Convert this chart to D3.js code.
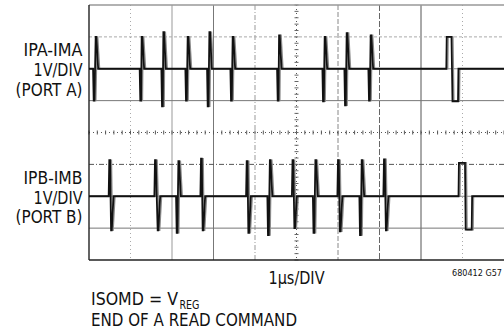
<!DOCTYPE html>
<html>
<head>
<meta charset="utf-8">
<script src="https://cdn.jsdelivr.net/npm/d3@7"></script>
<style>
  html, body { margin: 0; padding: 0; background: #fff; }
  svg { display: block; }
  text { font-family: "Liberation Sans Narrow", "Arial Narrow", "DejaVu Sans Condensed", "Liberation Sans", sans-serif; fill: #111; }
</style>
</head>
<body>
<svg id="chart" width="504" height="332"></svg>
<script>
// ---------- data ----------
const timeDivs = [0, 1, 2, 3, 4, 5, 6, 7, 8, 9, 10];      // µs (1µs/DIV)
const voltDivs = [-4, -3, -2, -1, 0, 1, 2, 3, 4];         // V (1V/DIV)
const channelNames = ["IPA-IMA", "IPB-IMB"];
const channelScales = ["1V/DIV", "1V/DIV"];
const channelPorts = ["(PORT A)", "(PORT B)"];
const channelOffsets = [2, -2];                           // screen offset in divisions
// short bipolar pulses: [t1 (µs), v1 (V), t2 (µs), v2 (V)]
const pulsesA = [
  [0.113, -1.00, 0.176, 1.00],
  [1.236, -1.00, 1.284, 1.00],
  [1.759, -1.18, 1.807, 1.15],
  [2.337, -1.00, 2.393, 1.00],
  [2.860, -1.18, 2.916, 1.15],
  [3.422, -1.00, 3.477, 1.00],
  [4.547, -1.00, 4.595, 1.05],
  [5.639, -1.02, 5.694, 1.00],
  [6.169, -1.15, 6.224, 1.12],
  [6.747, -1.00, 6.802, 1.05]
];
const pulsesB = [
  [0.489, 1.13, 0.547, -1.07],
  [1.590, 1.13, 1.670, -1.07],
  [2.113, -1.15, 2.169, 1.10],
  [2.699, 1.18, 2.754, -1.07],
  [3.800, 1.10, 3.855, -1.15],
  [4.313, -1.22, 4.373, 1.13],
  [4.904, 1.13, 4.964, -1.00],
  [5.410, -1.15, 5.470, 1.13],
  [6.000, 1.13, 6.060, -1.10],
  [6.530, -1.22, 6.586, 1.13],
  [7.108, 1.16, 7.169, -1.07]
];
// long pulses: [upStart, upEnd, vUp, downStart, downEnd, vDown]
const longA = [8.610, 8.735, 1.00, 8.759, 8.892, -1.02];
const longB = [8.904, 9.060, 1.05, 9.077, 9.222, -1.05];
const xLabel = "1µs/DIV";
const figId = "680412 G57";
const noteLine1 = "ISOMD = V";
const noteSub = "REG";
const noteLine2 = "END OF A READ COMMAND";

// ---------- scales ----------
const svg = d3.select("#chart");
const x = d3.scaleLinear().domain([0, 10]).range([89, 504]);
const y = d3.scaleLinear().domain([-4, 4]).range([260, 5]);

// ---------- grid ----------
const vStyle = {
  1: {c: "#aaa", d: "1,3", w: 1},
  2: {c: "#999", d: null, w: 1},
  3: {c: "#777", d: null, w: 1},
  4: {c: "#999", d: "5,2,1,2", w: 1},
  5: {c: "#555", d: "1,3", w: 1},
  6: {c: "#888", d: "5,2", w: 1},
  7: {c: "#666", d: "6,2", w: 1},
  8: {c: "#555", d: null, w: 1},
  9: {c: "#aaa", d: "1,3", w: 1}
};
const hStyle = {
  "3": {c: "#aaa", d: "3,2", w: 1},
  "2": {c: "#888", d: null, w: 1},
  "1": {c: "#777", d: null, w: 1},
  "0": {c: "#555", d: "1,3", w: 1},
  "-1": {c: "#555", d: "5,2,1,2", w: 1},
  "-2": {c: "#888", d: null, w: 1},
  "-3": {c: "#777", d: null, w: 1}
};
const g = svg.append("g");
g.selectAll("line.v").data(timeDivs.filter(d => d > 0 && d < 10)).join("line")
  .attr("x1", d => x(d)).attr("x2", d => x(d)).attr("y1", y(4)).attr("y2", y(-4))
  .attr("stroke", d => vStyle[d].c).attr("stroke-width", d => vStyle[d].w)
  .attr("stroke-dasharray", d => vStyle[d].d);
g.selectAll("line.h").data(voltDivs.filter(d => d > -4 && d < 4)).join("line")
  .attr("x1", x(0)).attr("x2", x(10)).attr("y1", d => y(d)).attr("y2", d => y(d))
  .attr("stroke", d => hStyle[d].c).attr("stroke-width", d => hStyle[d].w)
  .attr("stroke-dasharray", d => hStyle[d].d);
// center tick marks (1/5 division)
const subT = d3.range(0, 10.001, 0.2);
const subV = d3.range(-4, 4.001, 0.2);
g.selectAll("line.tx").data(subT).join("line")
  .attr("x1", d => x(d)).attr("x2", d => x(d)).attr("y1", y(0) - 2).attr("y2", y(0) + 2)
  .attr("stroke", "#555").attr("stroke-width", 1);
g.selectAll("line.ty").data(subV).join("line")
  .attr("x1", x(5) - 2).attr("x2", x(5) + 2).attr("y1", d => y(d)).attr("y2", d => y(d))
  .attr("stroke", "#666").attr("stroke-width", 1);
// borders
g.append("line").attr("x1", x(0)).attr("x2", x(10)).attr("y1", y(4)).attr("y2", y(4))
  .attr("stroke", "#999").attr("stroke-width", 1.6);
g.append("line").attr("x1", x(0)).attr("x2", x(10)).attr("y1", y(-4)).attr("y2", y(-4))
  .attr("stroke", "#222").attr("stroke-width", 1.4);
g.append("line").attr("x1", x(0)).attr("x2", x(0)).attr("y1", y(4)).attr("y2", y(-4))
  .attr("stroke", "#222").attr("stroke-width", 1.4);

// ---------- traces ----------
function buildTrace(pulses, long) {
  const pts = [[0, 0]];
  pulses.forEach(p => {
    pts.push([p[0] - 0.015, 0], [p[0], p[1]], [p[0] + 0.018, p[1]],
             [p[2] - 0.015, p[3]], [p[2], p[3]], [p[2] + 0.045, 0]);
  });
  pts.push([long[0], 0], [long[0] + 0.01, long[2]], [long[1], long[2]],
           [long[3], long[5]], [long[4], long[5]], [long[4] + 0.01, 0]);
  pts.push([10, 0]);
  return pts;
}
const traces = [buildTrace(pulsesA, longA), buildTrace(pulsesB, longB)];
traces.forEach((pts, i) => {
  const off = channelOffsets[i];
  const line = d3.line().x(d => x(d[0])).y(d => y(d[1] + off));
  // gray persistence shadow
  svg.append("path").attr("d", line(pts)).attr("fill", "none")
    .attr("stroke", "#8a8a8a").attr("stroke-width", 1.4)
    .attr("transform", "translate(1.4,0)");
  svg.append("path").attr("d", line(pts)).attr("fill", "none")
    .attr("stroke", "#111").attr("stroke-width", 1.8).attr("stroke-linejoin", "miter");
});

// ---------- labels ----------
const labelRows = [channelNames, channelScales, channelPorts];
const labelDy = [-12.5, 7.3, 27.2];
const labelW = [59, 49, 67];
channelOffsets.forEach((off, i) => {
  labelRows.forEach((row, r) => {
    svg.append("text").attr("x", 82.5).attr("y", y(off) + labelDy[r])
      .attr("text-anchor", "end").attr("font-size", 18.5)
      .attr("textLength", labelW[r]).attr("lengthAdjust", "spacingAndGlyphs")
      .text(row[i]);
  });
});
svg.append("text").attr("x", x(5)).attr("y", 283.5).attr("text-anchor", "middle")
  .attr("font-size", 18.5).attr("textLength", 56).attr("lengthAdjust", "spacingAndGlyphs")
  .text(xLabel);
svg.append("text").attr("x", 452).attr("y", 275.5).attr("font-size", 9)
  .attr("textLength", 50).attr("lengthAdjust", "spacingAndGlyphs").text(figId);
svg.append("text").attr("x", 91).attr("y", 305).attr("font-size", 18.5)
  .attr("textLength", 87).attr("lengthAdjust", "spacingAndGlyphs").text(noteLine1);
svg.append("text").attr("x", 179.5).attr("y", 309).attr("font-size", 13)
  .attr("textLength", 20).attr("lengthAdjust", "spacingAndGlyphs").text(noteSub);
svg.append("text").attr("x", 91).attr("y", 326).attr("font-size", 18.5)
  .attr("textLength", 206).attr("lengthAdjust", "spacingAndGlyphs").text(noteLine2);
</script>
</body>
</html>
